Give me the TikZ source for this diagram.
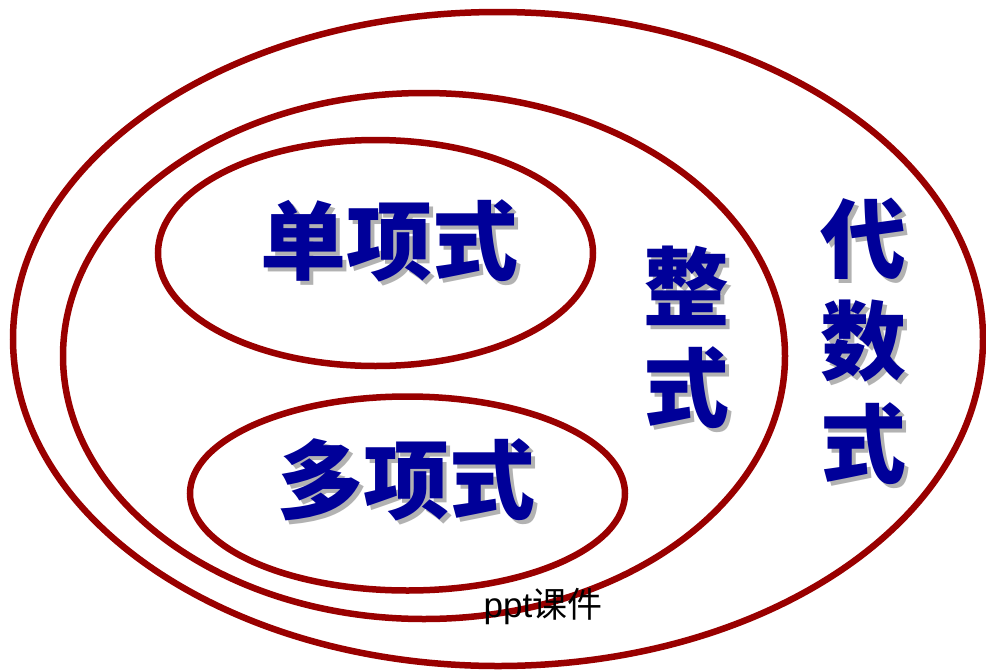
\documentclass[tikz,border=0pt]{standalone}
\usepackage{fontspec}
\setmainfont{Liberation Sans}
\newfontfamily\cjk{Noto Sans CJK SC}
\definecolor{ringred}{HTML}{990000}
\definecolor{labelblue}{HTML}{000099}
\newcommand{\shadowed}[1]{\rlap{\hspace{4pt}\raisebox{-4pt}{\color{black!30}#1}}#1}
\begin{document}
\begin{tikzpicture}[x=1pt,y=-1pt,
  ring/.style={draw=ringred,line width=6.5pt},
  biglabel/.style={font=\cjk\bfseries\fontsize{86}{86}\selectfont,text=labelblue,inner sep=0pt},
  footer/.style={font=\cjk\fontsize{35}{35}\selectfont,text=black,inner sep=0pt}]
\useasboundingbox[fill=white] (0,0) rectangle (986,670);
% rings
\draw[ring] (498,339) ellipse [x radius=485, y radius=327];
\draw[ring] (424,356) ellipse [x radius=361, y radius=263];
\draw[ring] (375.5,253) ellipse [x radius=217.5, y radius=113];
\draw[ring] (407.5,493.5) ellipse [x radius=217.5, y radius=97];
% labels
\node[biglabel] (dan) at (389,243) {\shadowed{单项式}};
\node[biglabel] (duo) at (406,482) {\shadowed{多项式}};
\node[biglabel] (zheng1) at (686,288) {\shadowed{整}};
\node[biglabel] (zheng2) at (686,390) {\shadowed{式}};
\node[biglabel] (dai1) at (863,241) {\shadowed{代}};
\node[biglabel] (dai2) at (863,343) {\shadowed{数}};
\node[biglabel] (dai3) at (863,446) {\shadowed{式}};
\node[footer] (ppt) at (543,606) {\rmfamily ppt\cjk 课件};
\end{tikzpicture}
\end{document}
